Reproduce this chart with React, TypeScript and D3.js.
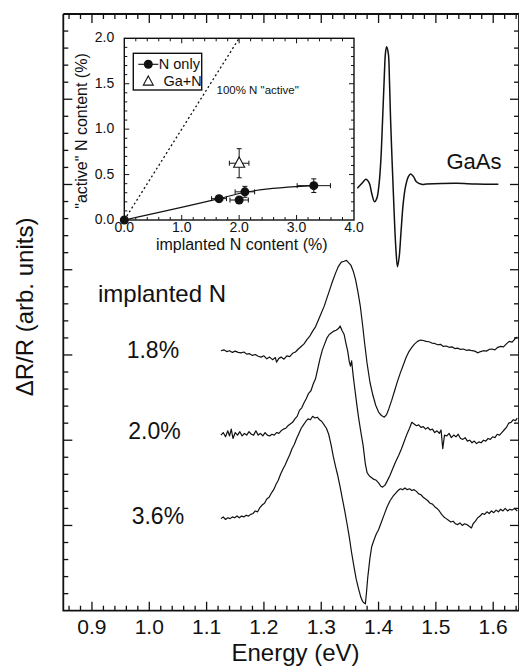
import React from "react";
import * as d3 from "d3";

type Pt = [number, number];

// Main panel: photoreflectance spectra, energy (eV) vs. offset ΔR/R (arb. units)
const energyTickLabels = ["0.9", "1.0", "1.1", "1.2", "1.3", "1.4", "1.5", "1.6"];
const energyTickValues = [0.9, 1.0, 1.1, 1.2, 1.3, 1.4, 1.5, 1.6];

const gaasSpectrum: Pt[] = [
  [1.363, 4.955], [1.371, 5.014], [1.378, 5.061], [1.384, 5.014], [1.388, 4.897],
  [1.393, 4.798], [1.397, 4.838], [1.401, 5.014], [1.404, 5.287], [1.407, 5.757],
  [1.41, 6.265], [1.412, 6.539], [1.414, 6.617], [1.417, 6.539], [1.419, 6.226],
  [1.421, 5.757], [1.424, 5.209], [1.427, 4.701], [1.43, 4.27], [1.433, 4.036],
  [1.436, 4.153], [1.439, 4.427], [1.443, 4.779], [1.447, 4.974], [1.452, 5.092],
  [1.456, 5.123], [1.461, 5.092], [1.466, 5.033], [1.475, 5.002], [1.484, 5.006],
  [1.51, 5.012], [1.537, 5.014], [1.57, 5.006], [1.609, 5.002],
];

const n18Spectrum: Pt[] = [
  [1.125, 3.05], [1.13, 3.06], [1.135, 3.04], [1.14, 3.05], [1.145, 3.03], [1.15, 3.045],
  [1.155, 3.03], [1.16, 3.025], [1.165, 3.035], [1.17, 3.01], [1.175, 3.015], [1.18, 2.995],
  [1.185, 3.005], [1.19, 2.985], [1.195, 2.975], [1.2, 2.99], [1.205, 2.955], [1.21, 2.975],
  [1.215, 2.945], [1.22, 2.97], [1.222, 2.915], [1.226, 2.96], [1.23, 2.975], [1.235, 2.95],
  [1.24, 2.99], [1.245, 2.98], [1.25, 3.02], [1.255, 3.035], [1.26, 3.07], [1.265, 3.1],
  [1.27, 3.13], [1.275, 3.18], [1.28, 3.22], [1.285, 3.28], [1.29, 3.33], [1.295, 3.41],
  [1.3, 3.49], [1.305, 3.57], [1.31, 3.67], [1.315, 3.77], [1.32, 3.87], [1.325, 3.96],
  [1.33, 4.04], [1.335, 4.09], [1.34, 4.1], [1.344, 4.11], [1.348, 4.08], [1.352, 4.05],
  [1.356, 3.98], [1.36, 3.88], [1.364, 3.74], [1.368, 3.58], [1.372, 3.36], [1.376, 3.12],
  [1.38, 2.9], [1.385, 2.68], [1.39, 2.53], [1.395, 2.41], [1.4, 2.33], [1.405, 2.29],
  [1.41, 2.27], [1.414, 2.3], [1.418, 2.37], [1.423, 2.47], [1.428, 2.58], [1.433, 2.69],
  [1.438, 2.79], [1.443, 2.88], [1.448, 2.97], [1.453, 3.04], [1.458, 3.09], [1.463, 3.13],
  [1.468, 3.16], [1.473, 3.175], [1.478, 3.17], [1.483, 3.16], [1.488, 3.155], [1.493, 3.14],
  [1.498, 3.135], [1.503, 3.12], [1.508, 3.125], [1.513, 3.1], [1.518, 3.105], [1.523, 3.09],
  [1.528, 3.095], [1.533, 3.075], [1.538, 3.08], [1.543, 3.065], [1.548, 3.07], [1.553, 3.055],
  [1.558, 3.06], [1.563, 3.05], [1.568, 3.045], [1.573, 3.025], [1.578, 3.04], [1.583, 3.05],
  [1.588, 3.045], [1.593, 3.065], [1.598, 3.07], [1.603, 3.06], [1.608, 3.09], [1.613, 3.1],
  [1.618, 3.095], [1.623, 3.13], [1.628, 3.16], [1.633, 3.15], [1.638, 3.19], [1.642, 3.21],
];

const n20Spectrum: Pt[] = [
  [1.125, 2.06], [1.129, 2.09], [1.133, 2.04], [1.137, 2.11], [1.14, 2.05], [1.143, 2.13],
  [1.146, 2.02], [1.15, 2.09], [1.154, 2.06], [1.158, 2.1], [1.162, 2.05], [1.166, 2.08],
  [1.17, 2.06], [1.174, 2.1], [1.178, 2.07], [1.182, 2.06], [1.186, 2.11], [1.19, 2.06],
  [1.194, 2.08], [1.198, 2.05], [1.202, 2.09], [1.206, 2.06], [1.21, 2.05], [1.214, 2.07],
  [1.218, 2.06], [1.222, 2.09], [1.226, 2.08], [1.23, 2.11], [1.234, 2.13], [1.238, 2.14],
  [1.242, 2.17], [1.246, 2.19], [1.25, 2.21], [1.254, 2.25], [1.258, 2.28], [1.262, 2.35],
  [1.266, 2.38], [1.27, 2.44], [1.274, 2.49], [1.278, 2.55], [1.282, 2.58], [1.286, 2.66],
  [1.29, 2.72], [1.294, 2.84], [1.298, 2.96], [1.302, 3.06], [1.306, 3.13], [1.31, 3.2],
  [1.314, 3.24], [1.318, 3.26], [1.322, 3.28], [1.326, 3.29], [1.33, 3.31], [1.333, 3.34],
  [1.336, 3.29], [1.34, 3.24], [1.343, 3.14], [1.346, 3.05], [1.349, 2.92], [1.351, 2.87],
  [1.353, 2.93], [1.356, 2.74], [1.359, 2.58], [1.362, 2.42], [1.365, 2.27], [1.369, 2.1],
  [1.373, 1.94], [1.377, 1.72], [1.38, 1.62], [1.384, 1.58], [1.388, 1.56], [1.392, 1.54],
  [1.396, 1.53], [1.4, 1.5], [1.404, 1.46], [1.407, 1.45], [1.411, 1.47], [1.415, 1.52],
  [1.42, 1.59], [1.425, 1.67], [1.43, 1.75], [1.435, 1.82], [1.44, 1.9], [1.445, 1.99],
  [1.45, 2.08], [1.454, 2.14], [1.458, 2.21], [1.462, 2.19], [1.466, 2.17], [1.47, 2.18],
  [1.474, 2.15], [1.478, 2.16], [1.482, 2.13], [1.486, 2.15], [1.49, 2.12], [1.494, 2.13],
  [1.498, 2.09], [1.502, 2.11], [1.506, 2.08], [1.509, 2.12], [1.512, 1.9], [1.515, 2.06],
  [1.519, 2.05], [1.523, 2.08], [1.527, 2.03], [1.531, 2.06], [1.535, 2.04], [1.539, 2.07],
  [1.543, 2.02], [1.547, 2.01], [1.551, 2.03], [1.555, 1.99], [1.559, 2.0], [1.563, 1.97],
  [1.567, 1.99], [1.571, 1.96], [1.575, 1.98], [1.579, 1.97], [1.583, 2.0], [1.587, 1.99],
  [1.591, 2.02], [1.595, 2.01], [1.599, 2.04], [1.603, 2.03], [1.607, 2.07], [1.611, 2.06],
  [1.615, 2.09], [1.619, 2.12], [1.623, 2.15], [1.627, 2.2], [1.631, 2.21], [1.635, 2.24],
  [1.639, 2.23], [1.642, 2.26],
];

const n36Spectrum: Pt[] = [
  [1.125, 1.08], [1.129, 1.1], [1.133, 1.07], [1.137, 1.09], [1.141, 1.08], [1.145, 1.1],
  [1.149, 1.09], [1.153, 1.11], [1.157, 1.09], [1.161, 1.11], [1.165, 1.1], [1.169, 1.12],
  [1.173, 1.11], [1.177, 1.13], [1.181, 1.14], [1.185, 1.17], [1.189, 1.16], [1.193, 1.21],
  [1.197, 1.24], [1.201, 1.26], [1.205, 1.31], [1.209, 1.33], [1.213, 1.38], [1.217, 1.42],
  [1.221, 1.48], [1.225, 1.53], [1.229, 1.6], [1.233, 1.66], [1.237, 1.71], [1.241, 1.77],
  [1.245, 1.83], [1.249, 1.9], [1.253, 1.95], [1.257, 2.02], [1.261, 2.08], [1.265, 2.14],
  [1.269, 2.18], [1.273, 2.22], [1.277, 2.25], [1.281, 2.24], [1.285, 2.28], [1.289, 2.26],
  [1.293, 2.27], [1.297, 2.24], [1.301, 2.22], [1.305, 2.18], [1.309, 2.14], [1.313, 2.07],
  [1.317, 1.95], [1.321, 1.81], [1.325, 1.69], [1.329, 1.58], [1.333, 1.45], [1.337, 1.31],
  [1.341, 1.17], [1.345, 1.02], [1.349, 0.86], [1.353, 0.68], [1.357, 0.52], [1.361, 0.37],
  [1.365, 0.26], [1.369, 0.16], [1.372, 0.11], [1.375, 0.09], [1.377, 0.08], [1.379, 0.22],
  [1.381, 0.38], [1.383, 0.5], [1.385, 0.62], [1.388, 0.75], [1.392, 0.83], [1.396, 0.9],
  [1.4, 0.95], [1.405, 1.04], [1.41, 1.13], [1.415, 1.22], [1.42, 1.29], [1.425, 1.34],
  [1.43, 1.38], [1.434, 1.41], [1.438, 1.43], [1.442, 1.42], [1.446, 1.44], [1.45, 1.42],
  [1.454, 1.43], [1.458, 1.41], [1.462, 1.42], [1.466, 1.4], [1.47, 1.37], [1.474, 1.36],
  [1.478, 1.33], [1.482, 1.31], [1.486, 1.29], [1.49, 1.26], [1.494, 1.25], [1.498, 1.22],
  [1.502, 1.2], [1.506, 1.17], [1.51, 1.13], [1.514, 1.1], [1.518, 1.08], [1.522, 1.06],
  [1.526, 1.04], [1.53, 1.05], [1.534, 1.02], [1.538, 1.01], [1.542, 1.03], [1.546, 1.0],
  [1.55, 1.02], [1.554, 1.01], [1.558, 0.99], [1.562, 0.97], [1.565, 1.02], [1.569, 1.05],
  [1.573, 1.09], [1.577, 1.11], [1.581, 1.14], [1.585, 1.13], [1.589, 1.16], [1.593, 1.14],
  [1.597, 1.17], [1.601, 1.15], [1.605, 1.18], [1.609, 1.16], [1.613, 1.19], [1.617, 1.17],
  [1.621, 1.2], [1.625, 1.17], [1.629, 1.19], [1.633, 1.18], [1.637, 1.2], [1.642, 1.17],
];

const sampleLabels = ["1.8%", "2.0%", "3.6%"];

// Inset: "active" vs implanted N content (%)
const nOnlyImplanted = [0, 1.65, 2.0, 2.1, 3.3];
const nOnlyActive = [0, 0.235, 0.22, 0.31, 0.378];
const nOnlyImplantedErr = [0, 0.13, 0.16, 0.17, 0.29];
const nOnlyActiveErr = [0, 0.035, 0.03, 0.06, 0.075];

const gaNImplanted = [2.0];
const gaNActive = [0.625];
const gaNImplantedErr = [0.17];
const gaNActiveErr = [0.16];

const fitImplanted = [0, 1.65, 2.1, 3.3];
const fitActive = [0, 0.235, 0.305, 0.378];

const insetXTickLabels = ["0.0", "1.0", "2.0", "3.0", "4.0"];
const insetYTickLabels = ["0.0", "0.5", "1.0", "1.5", "2.0"];

const FONT = "'Liberation Sans', Arial, Helvetica, sans-serif";

export default function App() {
  const W = 519;
  const H = 668;

  const x = d3.scaleLinear().domain([0.85, 1.645]).range([63.3, 519]);
  const y = d3.scaleLinear().domain([0, 7]).range([610.7, 14]);
  const [x0, x1] = x.range();
  const [yb, yt] = y.range();

  const noisy = d3
    .line<Pt>()
    .x((d) => x(d[0]))
    .y((d) => y(d[1]));
  const smooth = d3
    .line<Pt>()
    .x((d) => x(d[0]))
    .y((d) => y(d[1]))
    .curve(d3.curveCatmullRom.alpha(0.5));

  const xMinor = d3.range(43, 83).map((i) => ({ v: i * 0.02, major: i % 5 === 0 }));
  const yMinor = d3.range(1, 35).map((i) => ({ v: i * 0.2, major: i % 5 === 0 }));

  // inset scales
  const ix = d3.scaleLinear().domain([0, 4]).range([124.3, 354]);
  const iy = d3.scaleLinear().domain([0, 2]).range([220, 38.3]);
  const ixTicks = d3.range(1, 20).map((i) => ({ v: i * 0.2, major: i % 5 === 0 }));
  const iyTicks = d3.range(1, 20).map((i) => ({ v: i * 0.1, major: i % 5 === 0 }));

  const fitLine = d3
    .line<number>()
    .x((_, i) => ix(fitImplanted[i]))
    .y((d) => iy(d))
    .curve(d3.curveMonotoneX)(fitActive);

  const cap = 2.5;
  const errorBars = (xs: number[], ys: number[], xe: number[], ye: number[], key: string) =>
    xs.map((xv, i) => {
      const cx = ix(xv);
      const cy = iy(ys[i]);
      if (xe[i] === 0 && ye[i] === 0) return null;
      const xl = ix(xv - xe[i]);
      const xr = ix(xv + xe[i]);
      const yu = iy(ys[i] + ye[i]);
      const yd = iy(ys[i] - ye[i]);
      return (
        <g key={key + i} stroke="#111" strokeWidth={1}>
          <line x1={xl} x2={xr} y1={cy} y2={cy} />
          <line x1={xl} x2={xl} y1={cy - cap} y2={cy + cap} />
          <line x1={xr} x2={xr} y1={cy - cap} y2={cy + cap} />
          <line x1={cx} x2={cx} y1={yu} y2={yd} />
          <line x1={cx - cap} x2={cx + cap} y1={yu} y2={yu} />
          <line x1={cx - cap} x2={cx + cap} y1={yd} y2={yd} />
        </g>
      );
    });

  const tri = (cx: number, cy: number, s: number) =>
    `M${cx},${cy - s * 0.62} L${cx + s * 0.55},${cy + s * 0.4} L${cx - s * 0.55},${cy + s * 0.4} Z`;

  const [ix0, ix1] = ix.range();
  const [iyb, iyt] = iy.range();

  const labelPositions = [
    { x: 126.7, y: 358.3 },
    { x: 128.3, y: 439.3 },
    { x: 131.7, y: 524 },
  ];

  return (
    <svg
      width={W}
      height={H}
      viewBox={`0 0 ${W} ${H}`}
      style={{ position: "absolute", left: 0, top: 0, background: "#fff" }}
      fontFamily={FONT}
    >
      <rect x={0} y={0} width={W} height={H} fill="#fff" />

      {/* main frame and ticks */}
      <g stroke="#111" fill="none">
        <path d={`M${x0},${yt} V${yb} H${x1}`} strokeWidth={1.8} />
        <path d={`M${x0},${yt} H${x1 + 2}`} strokeWidth={1.8} />
        <path d={`M${x1},${yt} V${yb}`} strokeWidth={1.8} />
        {xMinor.map((t, i) => (
          <g key={"xt" + i} strokeWidth={1.3}>
            <line x1={x(t.v)} x2={x(t.v)} y1={yb} y2={yb - (t.major ? 9 : 5)} />
            <line x1={x(t.v)} x2={x(t.v)} y1={yt} y2={yt + (t.major ? 9 : 5)} />
          </g>
        ))}
        {yMinor.map((t, i) => (
          <g key={"yt" + i} strokeWidth={1.3}>
            <line x1={x0} x2={x0 + (t.major ? 9 : 5)} y1={y(t.v)} y2={y(t.v)} />
            <line x1={x1} x2={x1 - (t.major ? 9 : 5)} y1={y(t.v)} y2={y(t.v)} />
          </g>
        ))}
      </g>

      {/* energy tick labels */}
      <g fontSize={21} fill="#111" textAnchor="middle">
        {energyTickValues.map((v, i) => (
          <text key={"xl" + i} x={x(v)} y={634}>
            {energyTickLabels[i]}
          </text>
        ))}
      </g>
      <text x={295.5} y={661} fontSize={24} textAnchor="middle" fill="#111">
        Energy (eV)
      </text>
      <text
        transform={`translate(33,307) rotate(-90)`}
        fontSize={24}
        textAnchor="middle"
        fill="#111"
      >
        ΔR/R (arb. units)
      </text>

      {/* spectra */}
      <g fill="none" stroke="#111" strokeLinejoin="round">
        <path d={smooth(gaasSpectrum) ?? ""} strokeWidth={1.5} />
        <path d={noisy(n18Spectrum) ?? ""} strokeWidth={1.2} />
        <path d={noisy(n20Spectrum) ?? ""} strokeWidth={1.2} />
        <path d={noisy(n36Spectrum) ?? ""} strokeWidth={1.2} />
      </g>

      <text x={446.5} y={169.3} fontSize={22} fill="#111">
        GaAs
      </text>
      <text x={98} y={302} fontSize={24} fill="#111">
        implanted N
      </text>
      {sampleLabels.map((s, i) => (
        <text key={s} x={labelPositions[i].x} y={labelPositions[i].y} fontSize={23} fill="#111">
          {s}
        </text>
      ))}

      {/* inset */}
      <g>
        <rect x={ix0} y={iyt} width={ix1 - ix0} height={iyb - iyt} fill="#fff" stroke="#111" strokeWidth={1.4} />
        <g stroke="#111" strokeWidth={1}>
          {ixTicks.map((t, i) => (
            <g key={"ixt" + i}>
              <line x1={ix(t.v)} x2={ix(t.v)} y1={iyb} y2={iyb - (t.major ? 5 : 3)} />
              <line x1={ix(t.v)} x2={ix(t.v)} y1={iyt} y2={iyt + (t.major ? 5 : 3)} />
            </g>
          ))}
          {iyTicks.map((t, i) => (
            <g key={"iyt" + i}>
              <line x1={ix0} x2={ix0 + (t.major ? 5 : 3)} y1={iy(t.v)} y2={iy(t.v)} />
              <line x1={ix1} x2={ix1 - (t.major ? 5 : 3)} y1={iy(t.v)} y2={iy(t.v)} />
            </g>
          ))}
        </g>
        <g fontSize={14} fill="#111">
          {insetXTickLabels.map((s, i) => (
            <text key={"ixl" + i} x={ix(i)} y={231.5} textAnchor="middle">
              {s}
            </text>
          ))}
          {insetYTickLabels.map((s, i) => (
            <text key={"iyl" + i} x={114.3} y={iy(i * 0.5) + 4} textAnchor="end">
              {s}
            </text>
          ))}
        </g>
        <text x={241.7} y={249.5} fontSize={16} textAnchor="middle" fill="#111">
          implanted N content (%)
        </text>
        <text transform="translate(87,131) rotate(-90)" fontSize={16} textAnchor="middle" fill="#111">
          "active" N content (%)
        </text>

        {/* 100% active reference line */}
        <line
          x1={ix(0)}
          y1={iy(0)}
          x2={ix(2)}
          y2={iy(2)}
          stroke="#111"
          strokeWidth={1.3}
          strokeDasharray="2,2.6"
        />
        <text x={216.5} y={94.3} fontSize={11.5} fill="#111">
          100% N "active"
        </text>

        <path d={fitLine ?? ""} fill="none" stroke="#111" strokeWidth={1.1} />
        {errorBars(nOnlyImplanted, nOnlyActive, nOnlyImplantedErr, nOnlyActiveErr, "n")}
        {errorBars(gaNImplanted, gaNActive, gaNImplantedErr, gaNActiveErr, "g")}
        {nOnlyImplanted.map((v, i) => (
          <circle key={"c" + i} cx={ix(v)} cy={iy(nOnlyActive[i])} r={4.5} fill="#111" />
        ))}
        {gaNImplanted.map((v, i) => (
          <path key={"t" + i} d={tri(ix(v), iy(gaNActive[i]), 10)} fill="#fff" stroke="#111" strokeWidth={1.1} />
        ))}

        {/* legend */}
        <rect x={133.3} y={53.3} width={68.4} height={36.7} fill="#fff" stroke="#111" strokeWidth={1.4} />
        <line x1={138.3} x2={158.3} y1={64.3} y2={64.3} stroke="#111" strokeWidth={1.1} />
        <circle cx={148.3} cy={64.3} r={4.5} fill="#111" />
        <text x={158.8} y={69.3} fontSize={14.5} fill="#111">
          N only
        </text>
        <path d={tri(148.3, 81.5, 9)} fill="#fff" stroke="#111" strokeWidth={1.1} />
        <text x={163.5} y={86.3} fontSize={14.5} fill="#111">
          Ga+N
        </text>
      </g>
    </svg>
  );
}
